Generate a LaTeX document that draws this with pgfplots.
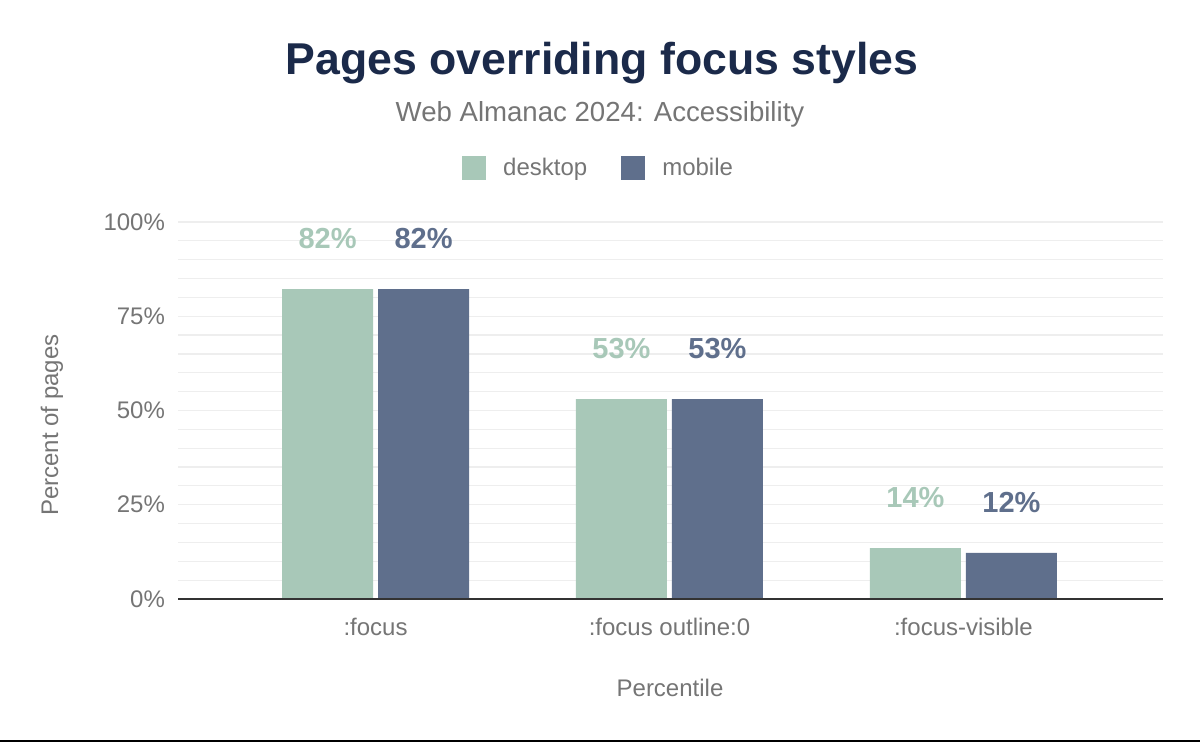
\documentclass[border=0pt]{standalone}
\usepackage{fontspec}
\setmainfont{Liberation Sans}
\usepackage{pgfplots}
\pgfplotsset{compat=1.18}
\definecolor{desk}{HTML}{A8C8B8}
\definecolor{mob}{HTML}{5F6F8C}
\definecolor{titlec}{HTML}{1B2A4A}
\definecolor{greyt}{HTML}{757575}
\definecolor{gridc}{HTML}{EEEEEE}
\begin{document}
\begin{tikzpicture}
\path[use as bounding box] (0pt,0pt) rectangle (600pt,371pt);
\node[anchor=base, font=\fontsize{22.3}{24}\selectfont\bfseries, text=titlec] at (301pt,333.5pt) {Pages overriding focus styles};
\node[anchor=base, font=\fontsize{13.8}{16}\selectfont, text=greyt] at (300pt,310pt) {Web Almanac 2024: Accessibility};
\begin{axis}[
  at={(89pt,71.5pt)}, anchor=south west,
  scale only axis, width=492.5pt, height=188.5pt,
  ybar=2.5pt, bar width=45.5pt,
  xmin=-0.672, xmax=2.679, ymin=0, ymax=100,
  xtick={0,1,2}, xticklabels={:focus,:focus outline:0,:focus-visible},
  ytick={0,25,50,75,100}, minor y tick num=4,
  yticklabel={\pgfmathprintnumber{\tick}\%},
  /pgf/number format/assume math mode=true,
  ymajorgrids, yminorgrids,
  major grid style={gridc, line width=0.6pt},
  minor grid style={gridc, line width=0.6pt},
  axis line style={draw=none},
  major tick length=0pt, minor tick length=0pt,
  tick label style={font=\fontsize{12}{14}\selectfont, text=greyt},
  yticklabel style={xshift=-3pt},
  xticklabel style={yshift=-6pt},
  xlabel={Percentile}, ylabel={Percent of pages},
  every axis x label/.style={at={(axis description cs:0.4995,-0.236)}, anchor=center, font=\fontsize{12}{14}\selectfont, text=greyt},
  every axis y label/.style={at={(axis description cs:-0.128,0.4615)}, anchor=center, rotate=90, font=\fontsize{12}{14}\selectfont, text=greyt},
  nodes near coords={\pgfmathprintnumber[fixed,precision=0]{\pgfplotspointmeta}\%},
  every node near coord/.append style={anchor=center, yshift=25.5pt, font=\fontsize{14.5}{16}\selectfont\bfseries},
  legend columns=2,
  legend image code/.code={\fill[#1] (0pt,-6pt) rectangle (12pt,6pt);},
  legend style={at={(axis description cs:0.426,1.143)}, anchor=center, draw=none, fill=none,
    inner sep=0pt, font=\fontsize{12}{14}\selectfont, text=greyt,
    nodes={inner sep=0pt, anchor=west},
    /tikz/every odd column/.append style={column sep=8.5pt},
    /tikz/every even column/.append style={column sep=17pt}},
  clip=false,
]
\addplot[fill=desk, draw=none, every node near coord/.append style={text=desk}] coordinates {(0,82.2) (1,53.0) (2,13.5)};
\addplot[fill=mob, draw=none, every node near coord/.append style={text=mob}] coordinates {(0,82.2) (1,53.0) (2,12.2)};
\legend{desktop,mobile}
\draw[color=black!80, line width=0.7pt] (rel axis cs:0,0) -- (rel axis cs:1,0);
\end{axis}
\fill[black] (0pt,0pt) rectangle (600pt,1.2pt);
\end{tikzpicture}
\end{document}
